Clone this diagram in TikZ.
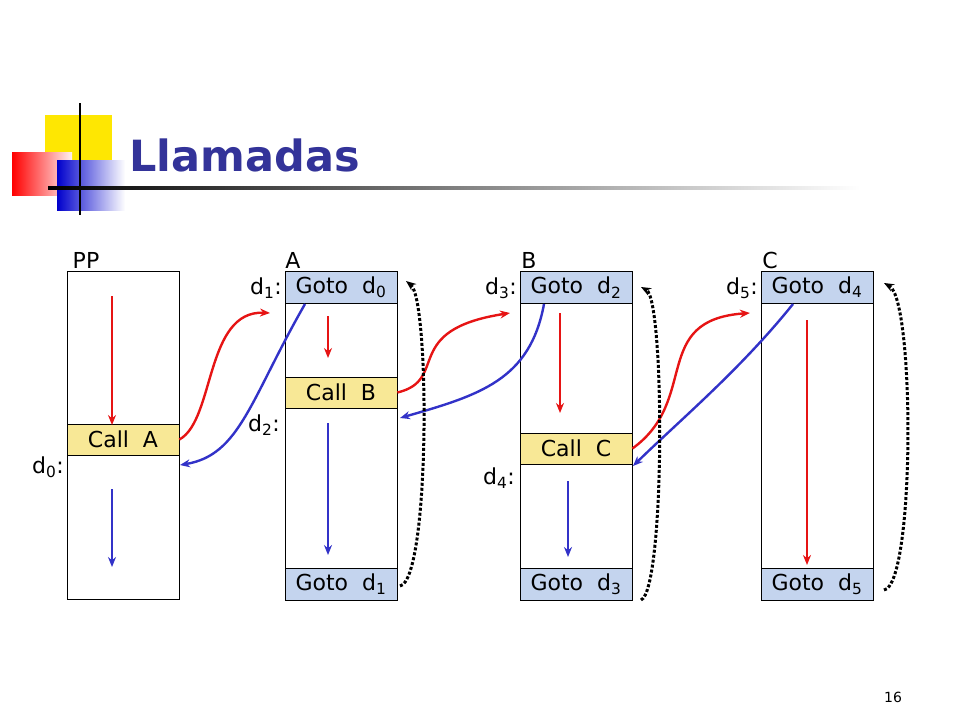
\documentclass[tikz,border=0pt]{standalone}
\usepackage{fontspec}
\setmainfont{DejaVu Sans}
\usetikzlibrary{arrows.meta}
\definecolor{titleblue}{RGB}{51,51,153}
\definecolor{gotofill}{RGB}{196,212,238}
\definecolor{callfill}{RGB}{248,232,150}
\definecolor{arrred}{RGB}{230,20,20}
\definecolor{arrblue}{RGB}{50,50,200}
\tikzset{
  frame/.style={draw, fill=white, line width=0.8pt},
  goto/.style={draw, line width=0.8pt, fill=gotofill, minimum width=112pt, minimum height=32pt, inner sep=0pt, font=\fontsize{22}{22}\selectfont},
  callbox/.style={draw, line width=0.8pt, fill=callfill, minimum width=112pt, minimum height=31pt, inner sep=0pt, font=\fontsize{22}{22}\selectfont},
  lbl/.style={font=\fontsize{22}{22}\selectfont},
  redarr/.style={arrred, line width=2.4pt, -{Stealth[length=10pt,width=8pt]}},
  bluearr/.style={arrblue, line width=2.4pt, -{Stealth[length=10pt,width=8pt]}},
  backarr/.style={black, line width=3pt, dotted, -{Stealth[length=10pt,width=8pt]}}
}
\begin{document}
\begin{tikzpicture}[x=1pt,y=-1pt]
\useasboundingbox (0,0) rectangle (960,720);
% logo
\fill[yellow!90!orange] (45,115) rectangle (112,180);
\shade[left color=red, right color=red!5] (72,152) rectangle (12,195);
\shade[left color=blue!80!black, right color=white] (57,160) rectangle (125,210);
\draw[line width=2pt] (80,103) -- (80,215);
\shade[left color=black, right color=white] (48,186.5) rectangle (860,189.5);
\node[anchor=west, titleblue, font=\fontsize{43}{43}\selectfont\bfseries] (title) at (126,155) {Llamadas};
% frames
\foreach \x/\n in {67/PP,285/A,520/B,761/C}
  \draw[frame] (\x,271) rectangle ++(112,328);
\node[lbl] (pp) at (86,260) {PP};
\node[lbl] (a) at (293,260) {A};
\node[lbl] (b) at (529,260) {B};
\node[lbl] (c) at (770,260) {C};
% boxes
\node[goto] (ga) at (341,287.5) {Goto\ \ d\textsubscript{0}};
\node[goto] (ga2) at (341,584.5) {Goto\ \ d\textsubscript{1}};
\node[goto] (gb) at (576,287.5) {Goto\ \ d\textsubscript{2}};
\node[goto] (gb2) at (576,584.5) {Goto\ \ d\textsubscript{3}};
\node[goto] (gc) at (817,287.5) {Goto\ \ d\textsubscript{4}};
\node[goto] (gc2) at (817,584.5) {Goto\ \ d\textsubscript{5}};
\node[callbox] (ca) at (123,439.5) {Call\ \ A};
\node[callbox] (cb) at (341,392.5) {Call\ \ B};
\node[callbox] (cc) at (576,448.5) {Call\ \ C};
% labels
\node[lbl] (d0) at (48,467) {d\textsubscript{0}:};
\node[lbl] (d1) at (266,288) {d\textsubscript{1}:};
\node[lbl] (d2) at (264,425) {d\textsubscript{2}:};
\node[lbl] (d3) at (501,288) {d\textsubscript{3}:};
\node[lbl] (d4) at (499,478) {d\textsubscript{4}:};
\node[lbl] (d5) at (742,288) {d\textsubscript{5}:};
\node[font=\fontsize{14}{14}\selectfont] (num) at (893,697) {16};
% straight flow
\draw[redarr] (112,296) -- (112,425);
\draw[bluearr] (112,489) -- (112,567);
\draw[redarr] (328,316) -- (328,358);
\draw[bluearr] (328,423) -- (328,555);
\draw[redarr] (560,313) -- (560,413);
\draw[bluearr] (568,481) -- (568,557);
\draw[redarr] (807,320) -- (807,565);
% calls
\draw[redarr] (ca.east) .. controls (215,420) and (205,310) .. (270,313);
\draw[bluearr] (305,304) .. controls (250,400) and (240,455) .. (180,465);
\draw[redarr] (cb.east) .. controls (450,380) and (400,330) .. (510,313);
\draw[bluearr] (544,304) .. controls (530,380) and (480,395) .. (400,418);
\draw[redarr] (cc.east) .. controls (700,400) and (650,320) .. (750,313);
\draw[bluearr] (793,304) .. controls (740,370) and (680,420) .. (633,466);
% returns
\draw[backarr] (400,586) .. controls (430,580) and (430,300) .. (406,281);
\draw[backarr] (641,600) .. controls (665,590) and (665,300) .. (641,287);
\draw[backarr] (884,590) .. controls (915,585) and (915,300) .. (884,283);
\end{tikzpicture}
\end{document}
